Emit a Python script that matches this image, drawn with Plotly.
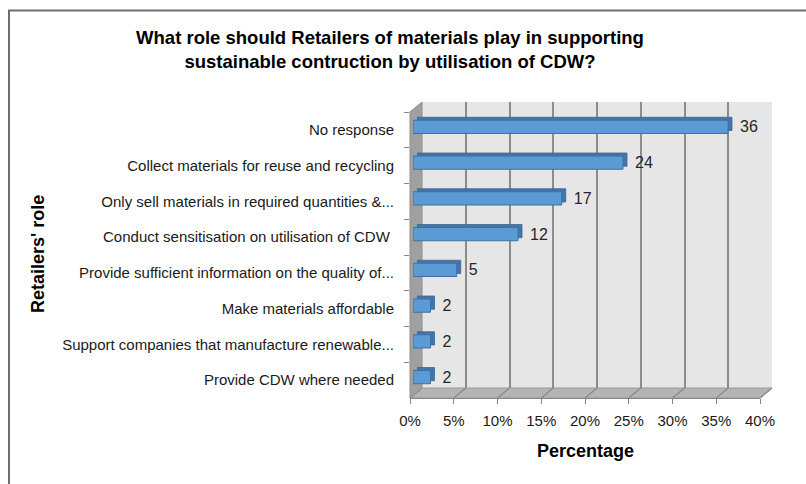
import plotly.graph_objects as go

categories = [
    "No response",
    "Collect materials for reuse and recycling",
    "Only sell materials in required quantities &...",
    "Conduct sensitisation on utilisation of CDW ",
    "Provide sufficient information on the quality of...",
    "Make materials affordable",
    "Support companies that manufacture renewable...",
    "Provide CDW where needed",
]
values = [36, 24, 17, 12, 5, 2, 2, 2]
x_ticks = [0, 5, 10, 15, 20, 25, 30, 35, 40]
x_ticklabels = [f"{v}%" for v in x_ticks]

W, H = 806, 484
FONT = "Liberation Sans, Arial, sans-serif"


def px(x):
    return x / W


def py(y):
    return 1 - y / H


# front plot area (pixels)
FL, FR, FT, FB = 410, 760, 112, 398
DX, DY = 12, -10  # depth offset of back wall


def dom(offx, offy):
    return dict(x=[px(FL + offx), px(FR + offx)], y=[py(FB + offy), py(FT + offy)])


fig = go.Figure()

# subplot 1: back wall grid (invisible carrier trace)
fig.add_trace(go.Scatter(x=values, y=categories, mode="markers",
                         marker=dict(opacity=0), hoverinfo="skip",
                         showlegend=False, xaxis="x", yaxis="y"))
# subplot 2: bar extrusion (darker, offset)
fig.add_trace(go.Bar(x=values, y=categories, orientation="h", width=0.37,
                     marker=dict(color="#4374AB", line=dict(color="#3B6795", width=0.8)),
                     showlegend=False, xaxis="x2", yaxis="y2"))
# subplot 3: bar front faces
fig.add_trace(go.Bar(x=values, y=categories, orientation="h", width=0.37,
                     marker=dict(color="#5B9BD5", line=dict(color="#41719C", width=1)),
                     showlegend=False, xaxis="x3", yaxis="y3"))
# subplot 4: front axes (labels)
fig.add_trace(go.Scatter(x=values, y=categories, mode="markers",
                         marker=dict(opacity=0), hoverinfo="skip",
                         showlegend=False, xaxis="x4", yaxis="y4"))
# subplot 5: data labels (invisible bars, shifted)
fig.add_trace(go.Bar(x=values, y=categories, orientation="h", width=0.37,
                     marker=dict(color="rgba(0,0,0,0)", line=dict(width=0)),
                     text=[str(v) for v in values], textposition="outside",
                     constraintext="none", textangle=0,
                     textfont=dict(family=FONT, size=16, color="#262626"),
                     cliponaxis=False, hoverinfo="skip",
                     showlegend=False, xaxis="x5", yaxis="y5"))

cat_axis = dict(type="category", categoryorder="array", categoryarray=categories,
                autorange="reversed")
lin_axis = dict(range=[0, 40], tickvals=x_ticks)

d1 = dom(DX, DY)
d2 = dom(7, -6)
d3 = dom(3, -3)
d4 = dom(0, 0)
d5 = dom(12, -3)

fig.update_layout(
    width=W, height=H,
    margin=dict(l=0, r=0, t=0, b=0, pad=0, autoexpand=False),
    paper_bgcolor="white", plot_bgcolor="rgba(0,0,0,0)",
    showlegend=False,
    bargap=0.6,
    xaxis=dict(domain=d1["x"], anchor="y", **lin_axis, showgrid=True,
               gridcolor="#8C8C8C", gridwidth=2, zeroline=False,
               showticklabels=False, showline=False),
    yaxis=dict(domain=d1["y"], anchor="x", **cat_axis, showgrid=False,
               showticklabels=False, showline=False, zeroline=False),
    xaxis2=dict(domain=d2["x"], anchor="y2", **lin_axis, visible=False),
    yaxis2=dict(domain=d2["y"], anchor="x2", **cat_axis, visible=False),
    xaxis3=dict(domain=d3["x"], anchor="y3", **lin_axis, visible=False),
    yaxis3=dict(domain=d3["y"], anchor="x3", **cat_axis, visible=False),
    xaxis5=dict(domain=d5["x"], anchor="y5", **lin_axis, visible=False),
    yaxis5=dict(domain=d5["y"], anchor="x5", **cat_axis, visible=False),
    xaxis4=dict(domain=d4["x"], anchor="y4", range=[0, 40], tickvals=x_ticks,
                ticktext=x_ticklabels, showgrid=False, zeroline=False,
                showline=True, linecolor="#868686", linewidth=1,
                ticks="outside", ticklen=5, tickcolor="#868686",
                automargin=False, ticklabelstandoff=4,
                tickfont=dict(family=FONT, size=15, color="#1A1A1A")),
    yaxis4=dict(domain=d4["y"], anchor="x4", **cat_axis, showgrid=False,
                zeroline=False, showline=False, ticks="outside", ticklen=5,
                tickcolor="#868686", tickson="boundaries", automargin=False,
                ticklabelstandoff=15,
                tickfont=dict(family=FONT, size=15, color="#1A1A1A")),
    title=dict(
        text="<b>What role should Retailers of materials play in supporting<br>sustainable contruction by utilisation of CDW?</b>",
        x=px(390), xanchor="center", y=py(44), yanchor="middle",
        font=dict(family=FONT, size=18.5, color="#000000"),
        automargin=False,
    ),
)

shapes = []
# outer border
shapes.append(dict(type="path", xref="paper", yref="paper",
                   path=f"M {px(9)} {py(490)} L {px(9)} {py(10.5)} L {px(810)} {py(10.5)}",
                   line=dict(color="#6E6E6E", width=2), layer="below"))
# back wall
shapes.append(dict(type="rect", xref="paper", yref="paper",
                   x0=px(FL + DX), x1=px(FR + DX), y0=py(FB + DY), y1=py(FT + DY),
                   fillcolor="#E6E6E6", line=dict(width=0), layer="below"))
# floor
shapes.append(dict(type="path", xref="paper", yref="paper",
                   path=(f"M {px(FL)} {py(FB)} L {px(FR)} {py(FB)} L {px(FR + DX)} {py(FB + DY)} "
                         f"L {px(FL + DX)} {py(FB + DY)} Z"),
                   fillcolor="#B4B4B4", line=dict(color="#9A9A9A", width=1), layer="below"))
# floor grid continuation
scale = (FR - FL) / 40.0
for v in x_ticks:
    shapes.append(dict(type="line", xref="paper", yref="paper",
                       x0=px(FL + DX + v * scale), y0=py(FB + DY),
                       x1=px(FL + v * scale), y1=py(FB),
                       line=dict(color="#8C8C8C", width=1.5), layer="below"))
# left wall
shapes.append(dict(type="path", xref="paper", yref="paper",
                   path=(f"M {px(FL)} {py(FT)} L {px(FL + DX)} {py(FT + DY)} L {px(FL + DX)} {py(FB + DY)} "
                         f"L {px(FL)} {py(FB)} Z"),
                   fillcolor="#A0A0A0", line=dict(color="#8E8E8E", width=1), layer="below"))
fig.update_layout(shapes=shapes)

fig.add_annotation(text="<b>Percentage</b>", xref="paper", yref="paper",
                   x=px(585), y=py(451), xanchor="center", yanchor="middle",
                   showarrow=False,
                   font=dict(family=FONT, size=18, color="#000000"))
fig.add_annotation(text="<b>Retailers' role</b>", xref="paper", yref="paper",
                   x=px(38), y=py(254), xanchor="center", yanchor="middle",
                   showarrow=False, textangle=-90,
                   font=dict(family=FONT, size=18, color="#000000"))

fig.write_html("out.html")
